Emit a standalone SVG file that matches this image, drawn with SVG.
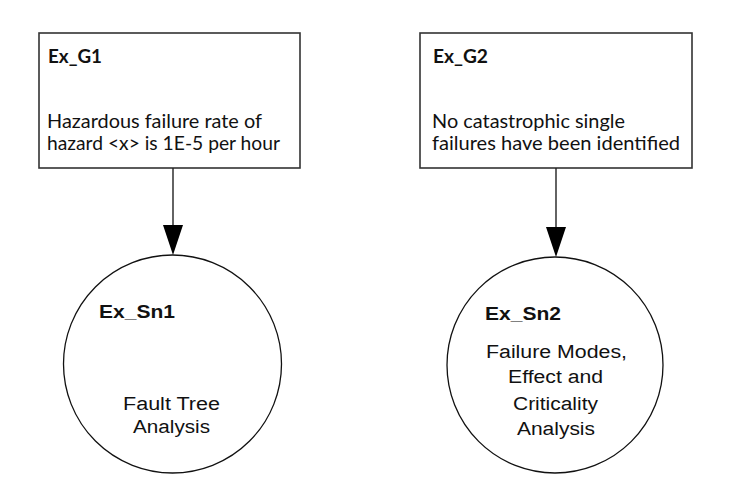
<svg xmlns="http://www.w3.org/2000/svg" width="736" height="501" viewBox="0 0 736 501">
<style>
.box{fill:#fff;stroke:#333;stroke-width:1.6}
.circ{fill:#fff;stroke:#111;stroke-width:1.3}
.t{fill:#111}
.g{font-family:Lato,"Liberation Sans",Arial,sans-serif;font-size:20px}
.gb{font-family:Lato,"Liberation Sans",Arial,sans-serif;font-size:19px;font-weight:bold}
.sb{font-family:"Liberation Sans",Arial,sans-serif;font-size:18px;font-weight:bold}
.s{font-family:"Liberation Sans",Arial,sans-serif;font-size:18px}
.edge{stroke:#222;stroke-width:1.4;fill:none}
.head{fill:#000}
</style>
<rect width="736" height="501" fill="#fff"/>
<g id="Ex_G1">
<rect class="box" x="39" y="33" width="261" height="135"/>
<text class="t gb" x="48" y="63" textLength="54" lengthAdjust="spacingAndGlyphs">Ex_G1</text>
<text class="t g" x="47" y="128" textLength="215" lengthAdjust="spacingAndGlyphs">Hazardous failure rate of</text>
<text class="t g" x="47" y="150" textLength="233" lengthAdjust="spacingAndGlyphs">hazard &lt;x&gt; is 1E-5 per hour</text>
</g>
<g id="Ex_G2">
<rect class="box" x="420" y="33" width="272" height="135"/>
<text class="t gb" x="433" y="63" textLength="55" lengthAdjust="spacingAndGlyphs">Ex_G2</text>
<text class="t g" x="432" y="128" textLength="193" lengthAdjust="spacingAndGlyphs">No catastrophic single</text>
<text class="t g" x="432" y="150" textLength="248" lengthAdjust="spacingAndGlyphs">failures have been identified</text>
</g>
<g id="Ex_Sn1">
<circle class="circ" cx="172.5" cy="364" r="109"/>
<text class="t sb" x="99" y="318" textLength="76" lengthAdjust="spacingAndGlyphs">Ex_Sn1</text>
<text class="t s" x="123" y="410" textLength="97" lengthAdjust="spacingAndGlyphs">Fault Tree</text>
<text class="t s" x="133" y="433" textLength="77" lengthAdjust="spacingAndGlyphs">Analysis</text>
</g>
<g id="Ex_Sn2">
<circle class="circ" cx="555" cy="365" r="108"/>
<text class="t sb" x="485" y="320" textLength="76" lengthAdjust="spacingAndGlyphs">Ex_Sn2</text>
<text class="t s" x="486" y="358" textLength="141" lengthAdjust="spacingAndGlyphs">Failure Modes,</text>
<text class="t s" x="508" y="383" textLength="95" lengthAdjust="spacingAndGlyphs">Effect and</text>
<text class="t s" x="513" y="410" textLength="85" lengthAdjust="spacingAndGlyphs">Criticality</text>
<text class="t s" x="517" y="435" textLength="78" lengthAdjust="spacingAndGlyphs">Analysis</text>
</g>
<g id="connectors">
<line class="edge" x1="173" y1="168" x2="173" y2="226"/>
<polygon class="head" points="163,225 183,225 173,255"/>
<line class="edge" x1="556" y1="168" x2="556" y2="228"/>
<polygon class="head" points="546,227 566,227 556,257"/>
</g>
</svg>
